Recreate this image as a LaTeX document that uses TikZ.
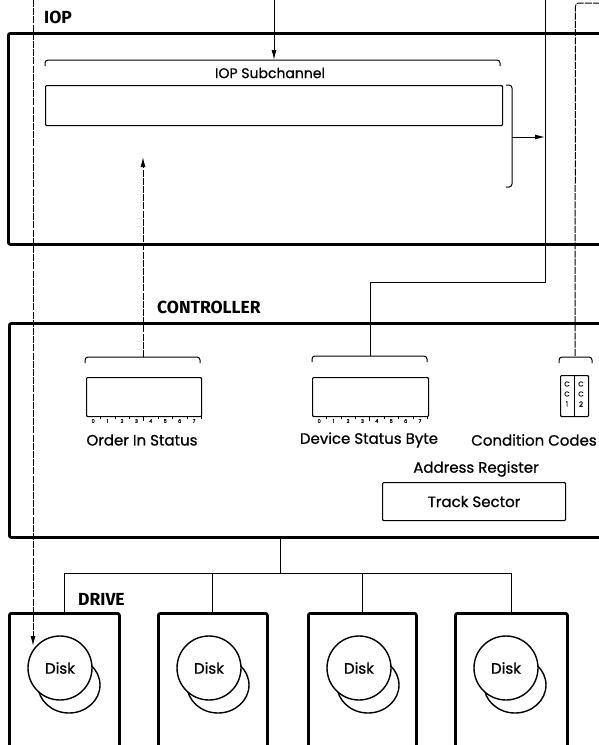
\documentclass[tikz,border=0pt]{standalone}
\usepackage{fontspec}
\setmainfont{Poppins}
\newfontfamily\labfont{Poppins}[FakeBold=0.8]
\newfontfamily\headfont{Fira Sans}
\usetikzlibrary{arrows.meta,calc}
\begin{document}
\begin{tikzpicture}[x=1pt,y=-1pt,
  heavy/.style={draw, line width=2.8pt, rounded corners=2pt, inner sep=0pt, anchor=north west},
  reg/.style={draw, line width=1.1pt, rounded corners=1pt, inner sep=0pt, anchor=north west},
  wire/.style={line width=1pt},
  dwire/.style={line width=1pt, dash pattern=on 7pt off 1.2pt},
  tip/.style={-{Latex[length=10pt,width=5pt]}},
  title/.style={font=\headfont\bfseries\fontsize{17.5}{18}\selectfont, anchor=west, inner sep=0pt},
  lab/.style={font=\labfont\fontsize{15}{16}\selectfont, inner sep=0pt},
  bit/.style={font=\labfont\fontsize{5}{5}\selectfont, inner sep=0pt},
  ccl/.style={font=\labfont\fontsize{7}{7}\selectfont, inner sep=0pt},
  disk/.style={draw, line width=1.4pt, fill=white, circle, minimum size=64pt, inner sep=0pt, font=\labfont\fontsize{15}{15}\selectfont},
  diskback/.style={draw, line width=1.4pt},
  brc/.style={wire, rounded corners=3pt}
]
\useasboundingbox (0,0) rectangle (598,745);

% ---------------- IOP ----------------
\node[title] (ioptitle) at (44,17) {IOP};
\node[heavy, minimum width=640pt, minimum height=211pt] (iop) at (7,32) {};
\node[reg, minimum width=457pt, minimum height=40pt] (sub) at (45,85) {};
\draw[brc] (45,66) -- (45,60) -- (500,60) -- (500,66);
\coordinate (subtop) at (274,60);
\node[lab, font=\labfont\fontsize{14}{15}\selectfont] (sublab) at (270,73) {IOP Subchannel};
% right brace
\draw[brc] (506,85) -- (512,85) -- (512,187) -- (506,187);
\coordinate (rbr) at (512,137);

% ---------------- CONTROLLER ----------------
\node[title] (ctrltitle) at (157,307) {CONTROLLER};
\node[heavy, minimum width=640pt, minimum height=214pt] (ctrl) at (8,322) {};

% Order In Status
\node[reg, minimum width=115pt, minimum height=39pt] (ord) at (86,377) {};
\draw[brc] (85,363) -- (85,357) -- (200,357) -- (200,363);
\coordinate (ordtop) at (143,357);
\node[lab] (ordlab) at (142,440) {Order In Status};

% Device Status Byte
\node[reg, minimum width=116pt, minimum height=39pt] (dsb) at (312,377) {};
\draw[brc] (312,362) -- (312,356) -- (427,356) -- (427,362);
\coordinate (dsbtop) at (370,356);
\node[lab] (dsblab) at (369,440) {Device Status Byte};

% bit numbering
\foreach \x in {86, 312}{
  \foreach \i in {0,...,7}{
    \node[bit] at ({\x+14.4*(\i+0.5)},421) {\i};
    \draw[line width=0.5pt] ({\x+14.4*(\i+1)},416) -- ({\x+14.4*(\i+1)},419);
  }
  \draw[line width=0.7pt] ({\x+14.4*4},416) -- ({\x+14.4*4},421);
}

% Condition Codes
\node[reg, minimum width=28pt, minimum height=41pt] (cc) at (560,375) {};
\draw[line width=0.8pt] (574,375) -- (574,416);
\node[ccl] at (567,384) {C};
\node[ccl] at (567,394) {C};
\node[ccl] at (567,404) {1};
\node[ccl] at (581,384) {C};
\node[ccl] at (581,394) {C};
\node[ccl] at (581,404) {2};
\draw[brc] (559,363) -- (559,357) -- (592,357) -- (592,363);
\coordinate (cctop) at (575,357);
\node[lab] (cclab) at (534,440) {Condition Codes};

% Address register
\node[lab] (adrlab) at (476,469) {Address Register};
\node[reg, minimum width=183pt, minimum height=38pt] (tsr) at (382,482) {};
\node[lab] (tsrlab) at (tsr.center) {Track Sector};

% ---------------- DRIVES ----------------
\node[title] (drvtitle) at (78,599) {DRIVE};
\node[heavy, minimum width=110pt, minimum height=160pt] (d1) at (8,612) {};
\node[heavy, minimum width=109pt, minimum height=160pt] (d2) at (157,612) {};
\node[heavy, minimum width=108pt, minimum height=160pt] (d3) at (307,612) {};
\node[heavy, minimum width=112pt, minimum height=160pt] (d4) at (454,612) {};

\foreach \d/\x in {d1/8, d2/157, d3/307, d4/454}{
  \draw[diskback] (\x+61,685) ellipse [x radius=31, y radius=28];
  \node[disk] (\d disk) at (\x+52,668) {Disk};
}

% bus
\coordinate (bus) at (280,573);
\draw[wire] (ctrl.south -| bus) -- (bus);
\draw[wire] (d1.north) -- (d1.north |- bus) -- (d4.north |- bus) -- (d4.north);
\draw[wire] (d2.north |- bus) -- (d2.north);
\draw[wire] (d3.north |- bus) -- (d3.north);

% ---------------- connectors ----------------
\coordinate (t274) at (274,0);
\draw[wire, tip] (t274) -- (subtop);

\coordinate (t33) at (33,0);
\coordinate (disk1in) at (33,646);
\draw[dwire, tip] (t33) -- (disk1in);

\coordinate (arrowup) at (143,157);
\draw[dwire, tip] (ordtop) -- (arrowup);

\coordinate (t545) at (545,0);
\draw[wire] (t545) -- (545,282) -- (370,282) -- (dsbtop);
\draw[wire, tip] (rbr) -- (545,137);

\coordinate (t598) at (600,3);
\draw[dwire, rounded corners=3pt] (t598) -- (575.5,3) -- (cctop);
\end{tikzpicture}
\end{document}
